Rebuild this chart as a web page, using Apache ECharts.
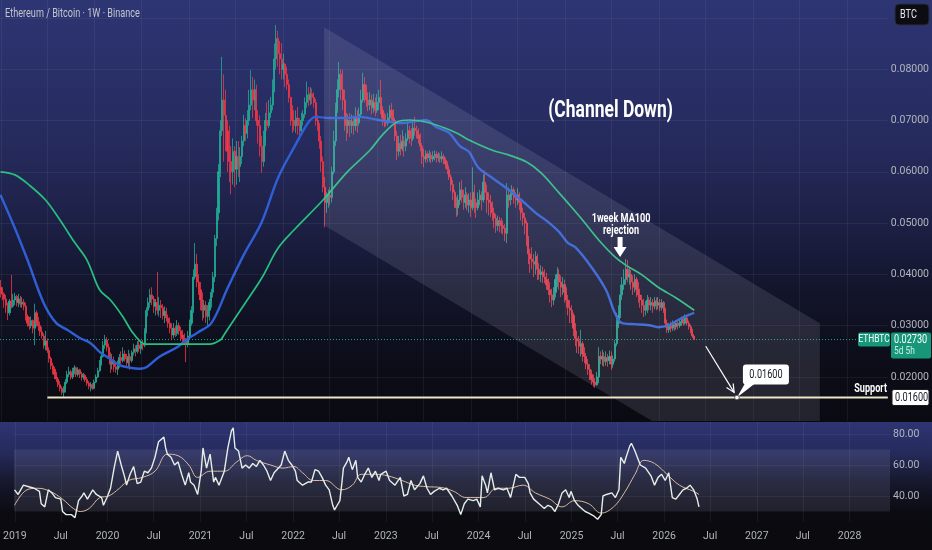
<!DOCTYPE html>
<html><head><meta charset="utf-8">
<script src="https://cdn.jsdelivr.net/npm/echarts@6/dist/echarts.min.js"></script>
<style>html,body{margin:0;padding:0;background:#0a0a0f;}#c{width:932px;height:550px;}</style>
</head><body><div id="c"></div>
<script>
// ---------- DATA ----------
const firstOpen = 0.0375;               // open of the first weekly candle
const firstWeek = '2018-12-31';         // Monday of first weekly candle
// weekly candles [close, high, low] in units of 1e-4 BTC
const candles2019 = [[370,389,355],[362,375,350],[352,365,335],[340,360,325],[325,345,311],[348,352,320],[338,399,334],[350,362,335],[357,364,340],[345,360,338],
[352,362,336],[342,358,336],[346,356,335],[338,352,330],[318,345,310],[305,322,298],[300,317,292],[310,318,295],[295,312,285],[325,343,262],
[305,330,298],[300,317,290],[288,308,280],[280,298,275],[262,285,255],[270,290,252],[252,275,247],[236,258,228],[222,240,215],[215,228,205],
[205,220,196],[196,210,190],[185,200,180],[178,192,172],[170,182,165],[176,182,161],[190,196,170],[205,212,186],[210,220,200],[200,214,195],
[212,218,196],[218,223,205],[205,220,200],[214,219,201],[206,216,198],[200,210,193],[203,208,195],[195,206,190],[188,200,183],[182,192,176],
[185,190,172],[178,188,175]];
const candles2020 = [[190,195,176],[200,205,188],[212,218,198],[225,233,210],[240,246,222],[262,270,238],[272,282,255],[258,278,250],[240,265,236],[225,248,208],
[232,245,215],[220,240,210],[215,230,208],[225,232,204],[238,245,218],[232,250,225],[245,258,228],[235,252,230],[228,245,222],[240,253,220],
[232,246,214],[248,252,228],[255,265,242],[250,262,240],[262,270,246],[255,272,249],[265,270,245],[262,272,252],[290,295,258],[330,336,285],
[345,355,318],[360,372,335],[352,375,340],[338,358,325],[345,352,320],[330,405,322],[340,356,318],[335,350,315],[320,342,312],[328,338,305],
[315,335,308],[305,322,296],[295,316,285],[282,305,272],[295,305,275],[285,300,278],[300,311,280],[290,306,282],[282,298,270],[275,292,266],
[270,285,264],[265,276,229],[280,290,258]];
const candles2021 = [[305,312,275],[330,338,300],[395,410,325],[420,461,390],[385,440,375],[370,400,360],[350,385,330],[330,365,310],[340,350,315],[318,348,305],
[330,340,301],[345,352,310],[365,372,335],[395,405,355],[470,477,385],[520,530,455],[600,615,505],[680,700,590],[740,824,670],[710,790,620],
[680,760,640],[640,700,600],[620,690,580],[600,650,556],[640,665,575],[605,650,570],[630,660,575],[610,660,590],[630,648,580],[660,670,615],
[690,711,650],[675,705,660],[700,720,665],[730,760,690],[760,798,720],[740,785,705],[760,780,720],[700,770,690],[690,720,655],[650,710,630],
[620,670,598],[660,680,610],[700,715,650],[690,735,680],[715,740,685],[730,746,705],[760,780,720],[820,850,755],[860,886,800],[830,875,805],
[820,855,790],[800,851,780]];
const candles2022 = [[810,830,780],[790,812,765],[770,805,760],[745,780,735],[720,746,690],[700,730,676],[690,720,680],[705,720,676],[690,726,672],[680,705,662],
[700,715,678],[712,720,690],[735,745,705],[750,776,725],[740,765,728],[752,765,730],[745,762,732],[735,755,725],[700,742,690],[690,710,680],
[660,695,645],[620,670,600],[570,630,560],[540,590,492],[545,560,520],[555,565,530],[550,570,535],[600,610,540],[660,680,595],[720,735,650],
[760,780,715],[790,814,745],[760,800,740],[740,798,720],[700,760,680],[690,715,660],[700,712,675],[690,715,668],[698,712,675],[690,710,672],
[705,726,680],[695,720,676],[712,725,690],[740,760,705],[770,793,735],[755,785,735],[740,770,726],[730,755,718],[740,755,720],[725,750,712],
[735,752,715],[720,745,708]];
const candles2023 = [[735,752,715],[745,760,720],[720,779,712],[705,728,690],[700,715,687],[695,712,688],[705,715,690],[720,730,698],[710,734,700],[700,722,695],
[670,705,660],[640,680,623],[655,670,630],[645,672,632],[660,681,640],[650,670,630],[665,675,640],[680,700,660],[672,690,655],[665,685,650],
[685,700,660],[680,707,670],[672,690,665],[665,685,655],[650,675,640],[630,656,615],[625,645,609],[635,642,618],[628,640,618],[632,642,620],
[625,638,617],[630,640,619],[634,642,622],[628,640,618],[630,638,620],[625,636,617],[630,640,618],[622,635,615],[615,628,606],[605,620,595],
[590,612,584],[575,595,562],[560,584,545],[540,565,530],[530,551,512],[545,555,515],[565,580,535],[550,584,540],[540,565,526],[555,570,530],
[535,560,525],[545,558,520]];
const candles2024 = [[530,560,512],[560,609,525],[540,575,520],[530,548,510],[545,560,525],[555,565,535],[545,562,525],[580,595,540],[560,603,545],[545,575,520],
[540,560,515],[530,555,512],[520,542,505],[510,530,490],[495,518,481],[505,515,485],[500,512,482],[495,510,480],[490,505,478],[480,498,465],
[555,578,461],[545,570,530],[555,565,535],[565,574,545],[550,570,538],[545,560,530],[555,568,535],[540,560,525],[520,545,505],[510,530,495],
[500,520,478],[470,505,455],[440,475,420],[430,450,403],[425,453,410],[420,440,395],[435,445,400],[410,440,389],[400,422,390],[405,418,385],
[395,415,383],[390,410,383],[380,403,370],[370,392,360],[360,385,345],[350,372,336],[365,375,340],[390,400,355],[400,414,375],[385,410,370],
[375,398,356],[380,395,360]];
const candles2025 = [[365,390,345],[350,375,335],[335,360,320],[330,350,305],[320,340,305],[295,325,280],[275,305,260],[270,290,247],[260,280,245],[265,292,240],
[245,270,230],[240,258,227],[225,247,215],[215,235,204],[205,225,194],[195,214,185],[190,205,181],[185,198,179],[200,210,183],[240,258,188],
[235,250,225],[240,253,222],[230,248,220],[238,250,222],[232,245,220],[240,252,225],[225,250,214],[235,242,218],[265,272,230],[305,325,260],
[320,340,295],[360,380,315],[380,395,350],[390,410,370],[410,430,380],[395,428,385],[400,415,380],[385,409,370],[375,398,360],[390,400,365],
[370,395,356],[360,385,345],[350,372,335],[340,360,325],[330,352,317],[335,348,320],[350,360,325],[340,356,330],[345,356,330],[338,352,325],
[348,356,332],[340,355,330]];
const candles2026 = [[345,356,332],[335,352,328],[345,352,330],[330,348,325],[305,335,296],[292,312,286],[300,305,286],[295,308,287],[302,310,290],[298,308,290],
[305,311,292],[300,310,293],[308,315,296],[312,318,300],[305,319,300],[315,322,302],[305,318,300],[298,310,292],[290,302,285],[280,294,276],
[273,284,272]];

// moving averages: week index -> price
const blueMaWeeks = [0,8,15,24,31,37,44,50,55,61,66,72,77,81,88,98,103,109,117,126,135,145,154,163,171,175,182,192,199,210,223,231,236,242,249,255,260,265,273,282,289,297,304,310,315,319,328,336,341,345,352,360,365,371,376,382,385];
const blueMaValues = [0.0555,0.0490,0.0428,0.0344,0.0305,0.0292,0.0276,0.0266,0.0249,0.0235,0.0223,0.0218,0.0216,0.0219,0.0239,0.0258,0.0272,0.0286,0.0305,0.0373,0.0438,0.0502,0.0588,0.0648,0.0697,0.0707,0.0705,0.0705,0.0707,0.0701,0.0695,0.0699,0.0701,0.0687,0.0676,0.0650,0.0639,0.0609,0.0588,0.0565,0.0545,0.0520,0.0502,0.0483,0.0461,0.0453,0.0414,0.0370,0.0325,0.0305,0.0303,0.0301,0.0297,0.0301,0.0311,0.0321,0.0325];
const greenMaWeeks = [0,8,16,25,33,41,48,55,61,68,73,78,81,99,116,122,124,135,145,154,163,179,192,205,212,220,227,236,247,254,260,273,282,292,300,310,315,323,332,341,347,356,365,375,385];
const greenMaValues = [0.0600,0.0594,0.0574,0.0545,0.0506,0.0463,0.0428,0.0370,0.0350,0.0317,0.0288,0.0268,0.0264,0.0264,0.0264,0.0272,0.0282,0.0340,0.0393,0.0451,0.0487,0.0545,0.0598,0.0642,0.0672,0.0697,0.0701,0.0697,0.0685,0.0674,0.0662,0.0642,0.0633,0.0619,0.0598,0.0559,0.0539,0.0506,0.0467,0.0434,0.0418,0.0399,0.0375,0.0354,0.0330];

// RSI and its moving average: [week index, value]
const rsiPoints = [[0,44],[2,41],[3,40],[5,47],[8,46],[11,45],[14,43],[15,35],[17,33],[19,44],[21,42],[23,39],[26,38],[27,30],[29,28],[32,28],[34,26],[36,37],[38,40],[39,42],[41,38],[44,44],[46,41],[49,39],[50,34],[52,39],[54,45],[56,58],[58,69],[60,60],[62,52],[63,47],[65,54],[67,59],[69,48],[71,49],[73,56],[75,55],[77,58],[79,65],[81,75],[84,78],[85,71],[86,67],[88,65],[90,60],[92,62],[94,54],[96,47],[98,55],[99,49],[101,47],[103,41],[105,56],[106,71],[108,58],[110,67],[112,49],[113,52],[115,47],[118,56],[120,71],[122,82],[123,84],[124,71],[126,69],[128,58],[130,60],[132,58],[134,61],[136,59],[138,63],[140,60],[142,56],[144,50],[146,55],[147,56],[150,60],[152,69],[154,63],[156,60],[158,56],[159,50],[162,47],[165,49],[167,49],[169,57],[171,56],[173,52],[175,47],[177,44],[179,34],[180,31],[182,35],[183,37],[184,47],[185,58],[187,62],[188,65],[190,57],[192,63],[193,52],[195,49],[197,54],[199,58],[201,52],[203,56],[205,50],[206,54],[209,56],[211,50],[214,47],[217,52],[219,40],[221,41],[223,50],[225,44],[228,48],[230,53],[232,45],[234,41],[236,43],[239,45],[241,44],[243,45],[246,40],[249,34],[251,28],[253,35],[255,38],[258,37],[260,38],[262,33],[263,53],[265,47],[266,42],[268,55],[270,44],[272,45],[275,44],[277,45],[279,39],[282,54],[284,52],[287,52],[289,48],[290,42],[292,38],[295,35],[298,32],[300,34],[302,33],[304,30],[306,35],[308,42],[310,44],[312,39],[313,43],[315,37],[317,34],[319,32],[321,30],[323,29],[326,27],[328,25],[330,28],[331,40],[333,41],[336,42],[338,39],[340,44],[341,65],[343,61],[344,65],[346,72],[347,74],[349,69],[350,66],[352,60],[355,58],[358,53],[360,47],[362,52],[364,54],[366,50],[368,55],[370,39],[372,38],[374,41],[376,44],[378,45],[380,47],[382,44],[384,38],[385,33]];
const rsiMaPoints = [[0,34],[7,44],[13,45],[20,43],[27,38],[33,32],[37,30],[42,32],[48,39],[53,40],[59,45],[64,50],[72,52],[79,56],[86,67],[92,66],[98,60],[103,52],[110,56],[118,56],[125,62],[131,66],[136,63],[144,60],[151,58],[157,59],[162,55],[168,50],[175,50],[184,44],[190,47],[195,54],[203,54],[210,53],[218,50],[225,47],[232,46],[240,45.5],[247,43],[254,39],[264,39],[271,45],[278,45],[286,47],[293,42],[301,38],[308,33],[315,37],[323,35],[330,29],[337,33],[343,42],[349,54],[354,63],[360,61],[367,54],[374,47],[382,43],[385,41]];

// axes / ticks
const timeTickDates = ['2019-01-01','2019-07-01','2020-01-01','2020-07-01','2021-01-01','2021-07-01','2022-01-01','2022-07-01','2023-01-01','2023-07-01','2024-01-01','2024-07-01','2025-01-01','2025-07-01','2026-01-01','2026-07-01','2027-01-01','2027-07-01','2028-01-01'];
const timeTickLabels = ['2019','Jul','2020','Jul','2021','Jul','2022','Jul','2023','Jul','2024','Jul','2025','Jul','2026','Jul','2027','Jul','2028'];
const priceTicks = [0.02,0.03,0.04,0.05,0.06,0.07,0.08];
const priceGridLines = [0.02,0.03,0.04,0.05,0.06,0.07,0.08,0.09];
const rsiTicks = [40,60,80];
const rsiBand = [30,70];

// drawings
const channelDates = ['2022-06-10','2027-09-18'];
const channelTop = [0.0882, 0.0305];
const channelBottom = [0.0496, -0.0081];
const supportLevel = 0.016;
const supportStart = '2019-07-01';
const lastPrice = 0.0273;
const arrowFrom = ['2026-07-02', 0.0260];
const arrowTo = ['2026-10-20', 0.0170];
const calloutAt = ['2026-10-31', 0.016];
const channelTextAt = ['2025-06-27', 0.0719];
const rejectionAt = ['2025-08-03', 0.0434];

// ---------- BUILD ----------
function utc(s){const a=s.split('-').map(Number);return Date.UTC(a[0],a[1]-1,a[2]);}
const WEEK = 7*86400000;
const week0 = utc(firstWeek);
const wk = i => week0 + i*WEEK;
const xMin = Date.UTC(2018,11,29,2);
const xMax = Date.UTC(2028,5,8,5);
const yMin = 0.011423, yMax = 0.093489;
const rsiMin = 23.23, rsiMax = 87.74;
const timeTickValues = timeTickDates.map(utc);

const allCandles = [].concat(candles2019,candles2020,candles2021,candles2022,candles2023,candles2024,candles2025,candles2026);
let prev = firstOpen;
const candleData = allCandles.map((c,i)=>{
  const o=prev, cl=c[0]/1e4;
  const h=Math.max(c[1]/1e4,o,cl), l=Math.min(c[2]/1e4,o,cl);
  prev=cl;
  return [wk(i), o, cl, l, h];
});
const blueData = blueMaWeeks.map((w,k)=>[wk(w), blueMaValues[k]]);
const greenData = greenMaWeeks.map((w,k)=>[wk(w), greenMaValues[k]]);
const rsiData = rsiPoints.map(p=>[wk(p[0]),p[1]]);
const rsiMaData = rsiMaPoints.map(p=>[wk(p[0]),p[1]]);

const FONT = "Roboto,'Liberation Sans',sans-serif";
const AXIS_COLOR = '#b2b5be';
const GRID_LINE = 'rgba(255,255,255,0.055)';
const SX = 0.76; // horizontal compression of annotation text

const chart = echarts.init(document.getElementById('c'), null, {renderer:'canvas'});

const option = {
  animation:false,
  backgroundColor:'#0a0a0f',
  textStyle:{fontFamily:FONT},
  grid:[{left:0,right:42,top:0,height:421},{left:0,right:42,top:422,height:100}],
  xAxis:[
    {type:'value',gridIndex:0,min:xMin,max:xMax,axisLabel:{show:false},axisLine:{show:false},axisTick:{show:false},splitLine:{show:false}},
    {type:'value',gridIndex:1,min:xMin,max:xMax,axisLine:{show:false},axisTick:{show:false},splitLine:{show:false},
      axisLabel:{customValues:timeTickValues,hideOverlap:false,showMinLabel:true,showMaxLabel:true,alignMinLabel:'center',alignMaxLabel:'center',
        color:AXIS_COLOR,fontSize:10.5,margin:9,fontFamily:FONT,
        formatter:(v)=>{const k=timeTickValues.indexOf(v);return k>=0?timeTickLabels[k]:'';}}}
  ],
  yAxis:[
    {type:'value',gridIndex:0,position:'right',min:yMin,max:yMax,axisLine:{show:false},axisTick:{show:false},splitLine:{show:false},
      axisLabel:{customValues:priceTicks,formatter:v=>v.toFixed(5),color:AXIS_COLOR,fontSize:10.5,margin:3,fontFamily:FONT}},
    {type:'value',gridIndex:1,position:'right',min:rsiMin,max:rsiMax,axisLine:{show:false},axisTick:{show:false},splitLine:{show:false},
      axisLabel:{customValues:rsiTicks,formatter:v=>v.toFixed(2),color:AXIS_COLOR,fontSize:10.5,margin:3,fontFamily:FONT}}
  ],
  series:[
    {type:'line',xAxisIndex:0,yAxisIndex:0,data:[[xMin,yMin]],symbol:'none',lineStyle:{opacity:0},silent:true,z:1,
      markLine:{silent:true,symbol:['none','none'],label:{show:false},animation:false,
        lineStyle:{color:GRID_LINE,width:1,type:'solid'},
        data:[...priceGridLines.map(v=>({yAxis:v})),...timeTickValues.map(t=>({xAxis:t}))]}},
    {type:'line',xAxisIndex:1,yAxisIndex:1,data:[[xMin,rsiMin]],symbol:'none',lineStyle:{opacity:0},silent:true,z:1,
      markLine:{silent:true,symbol:['none','none'],label:{show:false},animation:false,
        lineStyle:{color:GRID_LINE,width:1,type:'solid'},
        data:[...rsiTicks.map(v=>({yAxis:v})),...timeTickValues.map(t=>({xAxis:t}))]},
      markArea:{silent:true,itemStyle:{color:'rgba(175,180,215,0.13)'},data:[[{yAxis:rsiBand[0]},{yAxis:rsiBand[1]}]]}},
    {type:'line',name:'last price',xAxisIndex:0,yAxisIndex:0,data:[[xMin,lastPrice],[xMax,lastPrice]],symbol:'none',silent:true,z:2,
      lineStyle:{color:'#1fa584',width:1,type:[1,2]}},
    {type:'candlestick',name:'ETHBTC',xAxisIndex:0,yAxisIndex:0,data:candleData,encode:{x:0,y:[1,2,3,4]},
      barWidth:1.6,z:2,
      itemStyle:{color:'#22ab94',color0:'#f23645',borderColor:'#22ab94',borderColor0:'#f23645',borderWidth:0.8}},
    {type:'line',name:'MA blue',xAxisIndex:0,yAxisIndex:0,data:blueData,symbol:'none',smooth:0.35,z:3,
      lineStyle:{color:'#2f5fd6',width:2.4}},
    {type:'line',name:'MA green',xAxisIndex:0,yAxisIndex:0,data:greenData,symbol:'none',smooth:0.35,z:3,
      lineStyle:{color:'#27bf7f',width:1.7}},
    {type:'custom',name:'channel',xAxisIndex:0,yAxisIndex:0,data:[[utc(channelDates[0]),channelTop[0]]],clip:true,silent:true,z:5,
      renderItem:(params,api)=>{
        const t0=utc(channelDates[0]),t1=utc(channelDates[1]);
        const pts=[api.coord([t0,channelTop[0]]),api.coord([t1,channelTop[1]]),api.coord([t1,channelBottom[1]]),api.coord([t0,channelBottom[0]])];
        return {type:'polygon',shape:{points:pts},style:{fill:'rgba(200,200,222,0.135)'}};
      }},
    {type:'line',name:'support',xAxisIndex:0,yAxisIndex:0,data:[[utc(supportStart),supportLevel],[xMax,supportLevel]],
      symbol:'none',z:6,lineStyle:{color:'#ece6c6',width:2}},
    {type:'line',name:'RSI',xAxisIndex:1,yAxisIndex:1,data:rsiData,symbol:'none',z:4,
      lineStyle:{color:'#e6efe7',width:1.4}},
    {type:'line',name:'RSI MA',xAxisIndex:1,yAxisIndex:1,data:rsiMaData,symbol:'none',smooth:0.4,z:3,
      lineStyle:{color:'#d8b9a2',width:1}}
  ]
};
chart.setOption(option);

// ---------- overlays anchored to data ----------
const P = (d,v)=>chart.convertToPixel({gridIndex:0},[typeof d==='string'?utc(d):d, v]);
const T = (x,y,text,st)=>({type:'text',z:101,silent:true,x:x,y:y,scaleX:SX,
  style:Object.assign({text:text,fill:'#ffffff',fontSize:11,fontFamily:FONT,verticalAlign:'middle'},st||{})});
const g = [];
g.push({type:'rect',z:-10,silent:true,shape:{x:0,y:0,width:932,height:421},
  style:{fill:new echarts.graphic.LinearGradient(0,0,0,1,[{offset:0,color:'#2d3573'},{offset:0.33,color:'#262b5e'},{offset:0.5,color:'#1e2249'},{offset:0.7,color:'#12142a'},{offset:0.86,color:'#0c0d18'},{offset:1,color:'#0a0a12'}])}});
g.push({type:'rect',z:-10,silent:true,shape:{x:0,y:422,width:932,height:100},
  style:{fill:new echarts.graphic.LinearGradient(0,0,0,1,[{offset:0,color:'#2d3573'},{offset:0.3,color:'#262b5c'},{offset:0.6,color:'#16182d'},{offset:0.9,color:'#0b0b12'},{offset:1,color:'#0a0a10'}])}});
g.push(T(5,14,'Ethereum / Bitcoin · 1W · Binance',{fill:'#c3c6ce',fontSize:12}));
g.push({type:'rect',z:100,silent:true,shape:{x:895,y:4,width:34,height:21,r:4},style:{fill:'#0c0d13',stroke:'#2c2f3a',lineWidth:1}});
g.push(T(900,15,'BTC',{fill:'#e8e8ea',fontSize:12}));
const ct = P(channelTextAt[0],channelTextAt[1]);
g.push(T(ct[0],ct[1],'(Channel Down)',{fontSize:23,fontWeight:'bold',align:'center'}));
const rj = P(rejectionAt[0],rejectionAt[1]);
g.push(T(rj[0]+1,rj[1]-32,'1week MA100\nrejection',{fontSize:12,fontWeight:'bold',lineHeight:12,align:'center'}));
g.push({type:'polygon',z:100,silent:true,shape:{points:[[rj[0]-6.5,rj[1]-10],[rj[0]-2.5,rj[1]-10],[rj[0]-2.5,rj[1]-20],[rj[0]+2.5,rj[1]-20],[rj[0]+2.5,rj[1]-10],[rj[0]+6.5,rj[1]-10],[rj[0],rj[1]]]},style:{fill:'#ffffff'}});
const a0 = P(arrowFrom[0],arrowFrom[1]), a1 = P(arrowTo[0],arrowTo[1]);
const ang = Math.atan2(a1[1]-a0[1],a1[0]-a0[0]);
const hl = 9, hw = 0.45;
g.push({type:'line',z:100,silent:true,shape:{x1:a0[0],y1:a0[1],x2:a1[0],y2:a1[1]},style:{stroke:'#ffffff',lineWidth:1.2}});
g.push({type:'polyline',z:100,silent:true,shape:{points:[[a1[0]-hl*Math.cos(ang-hw),a1[1]-hl*Math.sin(ang-hw)],[a1[0],a1[1]],[a1[0]-hl*Math.cos(ang+hw),a1[1]-hl*Math.sin(ang+hw)]]},style:{stroke:'#ffffff',lineWidth:1.2,fill:null}});
const cp = P(calloutAt[0],calloutAt[1]);
g.push({type:'polygon',z:100,silent:true,shape:{points:[[cp[0],cp[1]],[cp[0]+8,cp[1]-14],[cp[0]+18,cp[1]-14]]},style:{fill:'#ffffff'}});
g.push({type:'rect',z:100,silent:true,shape:{x:cp[0]+6,y:cp[1]-33,width:46,height:20,r:3},style:{fill:'#ffffff'}});
g.push(T(cp[0]+29,cp[1]-23,supportLevel.toFixed(5),{fill:'#131722',fontSize:12,align:'center'}));
g.push({type:'circle',z:101,silent:true,shape:{cx:cp[0],cy:cp[1],r:2.3},style:{fill:'#ffffff',stroke:'#444',lineWidth:0.8}});
const sp = P(utc(supportStart),supportLevel);
g.push(T(887,sp[1]-9,'Support',{fontSize:12,fontWeight:'bold',align:'right'}));
g.push({type:'rect',z:100,silent:true,shape:{x:892,y:sp[1]-8,width:37,height:16,r:2},style:{fill:'#ffffff',stroke:'#1b1b1f',lineWidth:1}});
g.push(T(895,sp[1],supportLevel.toFixed(5),{fill:'#131722',fontSize:12}));
const lp = P(xMin,lastPrice);
g.push({type:'rect',z:100,silent:true,shape:{x:858,y:lp[1]-7,width:32,height:14,r:2},style:{fill:'#16977a'}});
g.push(T(874,lp[1],'ETHBTC',{fontSize:11,align:'center'}));
g.push({type:'rect',z:100,silent:true,shape:{x:891,y:lp[1]-7,width:40,height:26,r:2},style:{fill:'#16977a'}});
g.push(T(894,lp[1],lastPrice.toFixed(5),{fontSize:12}));
g.push(T(894,lp[1]+12,'5d 5h',{fill:'#cdeee3',fontSize:11}));

chart.setOption({graphic:g});
</script></body></html>
